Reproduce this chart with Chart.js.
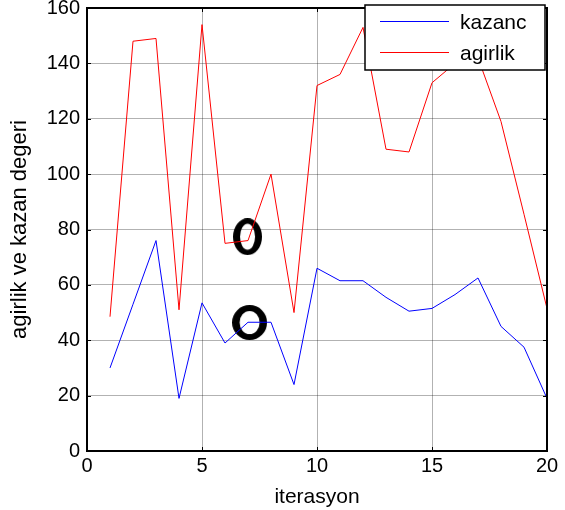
<!DOCTYPE html>
<html>
<head>
<meta charset="utf-8">
<script src="https://cdn.jsdelivr.net/npm/chart.js@4/dist/chart.umd.min.js"></script>
<style>
  html, body { margin: 0; padding: 0; background: #fff; }
  #wrap { width: 565px; height: 510px; position: relative; }
</style>
</head>
<body>
<div id="wrap"><canvas id="myChart"></canvas></div>
<script>
// iterasyon numaralari
const iterasyon = [1, 2, 3, 4, 5, 6, 7, 8, 9, 10, 11, 12, 13, 14, 15, 16, 17, 18, 19, 20];
// kazanc (mavi)
const kazanc = [30, 53, 76, 19, 53.5, 39, 46.5, 46.5, 24, 66, 61.5, 61.5, 55.5, 50.5, 51.5, 56.5, 62.5, 45, 37.5, 19];
// agirlik (kirmizi)
const agirlik = [48.5, 148, 149, 51, 154, 75, 76, 100, 50, 132, 136, 153, 109, 108, 133, 140, 142, 119, 85.5, 51.5];
// siyah halkalar (ust: agirlik, alt: kazanc)
const halka_ust = [{ x: 6.98, y: 77.4 }];
const halka_alt = [{ x: 7.07, y: 46.4 }];

const x_ticks = [0, 5, 10, 15, 20];
const y_ticks = [0, 20, 40, 60, 80, 100, 120, 140, 160];
const legend_labels = ["kazanc", "agirlik"];

const FONT = "'Liberation Sans', Arial, sans-serif";
const NARROW = "'Liberation Sans Narrow', 'Arial Narrow', 'Liberation Sans', sans-serif";

function points(xs, ys) {
  return xs.map((x, i) => ({ x: x, y: ys[i] }));
}

// thick "o" ring used as point style
function ring(w, h, sx, sy) {
  const c = document.createElement("canvas");
  c.width = w;
  c.height = h;
  const g = c.getContext("2d");
  g.fillStyle = "#000";
  g.beginPath();
  g.ellipse(w / 2, h / 2, w / 2, h / 2, 0, 0, Math.PI * 2);
  g.ellipse(w / 2, h / 2, w / 2 - sx, h / 2 - sy, 0, 0, Math.PI * 2);
  g.fill("evenodd");
  return c;
}

// inward ticks + box, matlab style
const boxPlugin = {
  id: "box",
  afterDatasetsDraw(chart) {
    const { ctx, chartArea: a, scales } = chart;
    ctx.save();
    ctx.strokeStyle = "#000";
    ctx.lineWidth = 1;
    const len = 4;
    x_ticks.forEach((v) => {
      const px = Math.round(scales.x.getPixelForValue(v)) + 0.5;
      ctx.beginPath();
      ctx.moveTo(px, a.bottom);
      ctx.lineTo(px, a.bottom - len);
      ctx.moveTo(px, a.top);
      ctx.lineTo(px, a.top + len);
      ctx.stroke();
    });
    y_ticks.forEach((v) => {
      const py = Math.round(scales.y.getPixelForValue(v)) + 0.5;
      ctx.beginPath();
      ctx.moveTo(a.left, py);
      ctx.lineTo(a.left + len, py);
      ctx.moveTo(a.right, py);
      ctx.lineTo(a.right - len, py);
      ctx.stroke();
    });
    ctx.lineWidth = 2;
    ctx.strokeRect(a.left, a.top, a.right - a.left, a.bottom - a.top);
    ctx.restore();
  },
  afterDraw(chart) {
    // legend box drawn over the plot
    const { ctx } = chart;
    const lx = 365, ly = 5, lw = 180, lh = 65;
    ctx.save();
    ctx.fillStyle = "#fff";
    ctx.fillRect(lx, ly, lw, lh);
    ctx.strokeStyle = "#000";
    ctx.lineWidth = 1.5;
    ctx.strokeRect(lx, ly, lw, lh);
    const colors = ["#0000ff", "#ff0000"];
    legend_labels.forEach((lab, i) => {
      const y = ly + 16 + i * 31;
      ctx.strokeStyle = colors[i];
      ctx.lineWidth = 1;
      ctx.beginPath();
      ctx.moveTo(380, y + 0.5);
      ctx.lineTo(449, y + 0.5);
      ctx.stroke();
      ctx.fillStyle = "#000";
      ctx.font = "21px " + FONT;
      ctx.textBaseline = "middle";
      ctx.fillText(lab, 460, y + 2);
    });
    ctx.restore();
  },
};

const ctx = document.getElementById("myChart");
new Chart(ctx, {
  type: "line",
  data: {
    datasets: [
      {
        label: legend_labels[0],
        data: points(iterasyon, kazanc),
        borderColor: "#0000ff",
        borderWidth: 1,
        pointRadius: 0,
        tension: 0,
      },
      {
        label: legend_labels[1],
        data: points(iterasyon, agirlik),
        borderColor: "#ff0000",
        borderWidth: 1,
        pointRadius: 0,
        tension: 0,
      },
      {
        label: "halka1",
        data: halka_ust,
        showLine: false,
        pointStyle: ring(29, 37, 7, 5.5),
      },
      {
        label: "halka2",
        data: halka_alt,
        showLine: false,
        pointStyle: ring(35, 35, 7.5, 6),
      },
    ],
  },
  options: {
    responsive: true,
    maintainAspectRatio: false,
    animation: false,
    layout: { padding: { top: 8, right: 18, left: 0, bottom: 0 } },
    plugins: {
      legend: { display: false },
      tooltip: { enabled: false },
    },
    scales: {
      x: {
        type: "linear",
        min: 0,
        max: 20,
        afterBuildTicks: (s) => { s.ticks = x_ticks.map((v) => ({ value: v })); },
        afterFit: (s) => { s.height = 59; },
        grid: { color: "rgba(0,0,0,0.3)", drawTicks: false, lineWidth: 1 },
        border: { display: false },
        ticks: { color: "#000", font: { size: 20, family: NARROW }, padding: 3, maxRotation: 0 },
        title: {
          display: true,
          text: "iterasyon",
          color: "#000",
          font: { size: 21, family: FONT },
          padding: { top: 0, bottom: 0 },
        },
      },
      y: {
        min: 0,
        max: 160,
        afterBuildTicks: (s) => { s.ticks = y_ticks.map((v) => ({ value: v })); },
        afterFit: (s) => {
          s.width = 87;
          s.paddingTop = 0;
          s.paddingBottom = 0;
        },
        grid: { color: "rgba(0,0,0,0.3)", drawTicks: false, lineWidth: 1 },
        border: { display: false },
        ticks: { color: "#000", font: { size: 20, family: NARROW }, padding: 7 },
        title: {
          display: true,
          text: "agirlik ve kazan degeri",
          color: "#000",
          font: { size: 22, family: FONT },
          padding: { top: 7, bottom: 2 },
        },
      },
    },
  },
  plugins: [boxPlugin],
});
</script>
</body>
</html>
